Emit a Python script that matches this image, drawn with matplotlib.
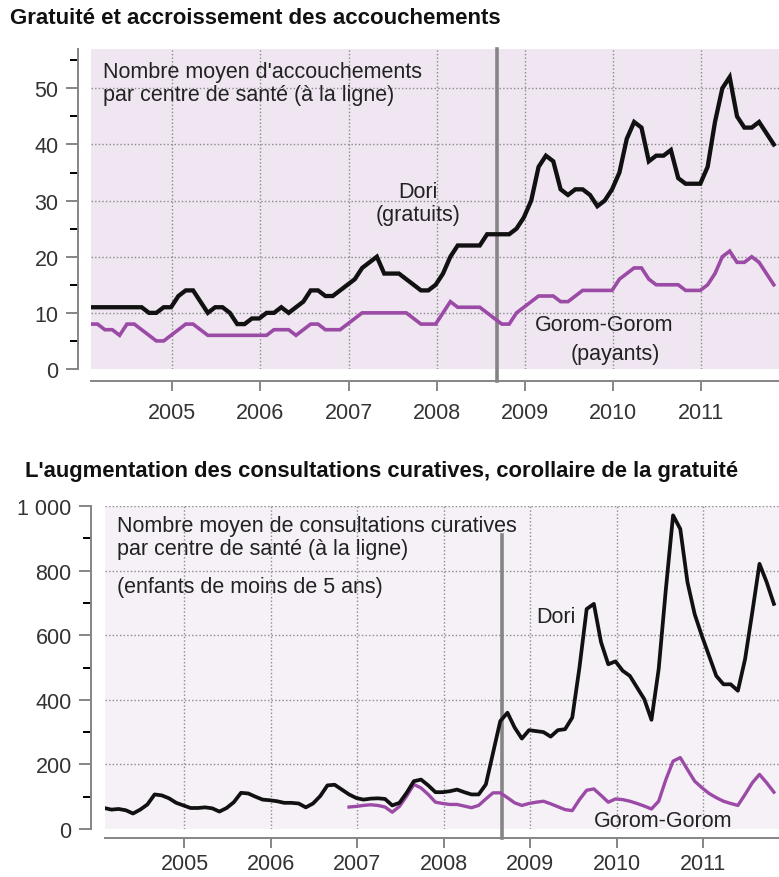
import matplotlib
matplotlib.use('Agg')
import matplotlib.pyplot as plt
import numpy as np

plt.rcParams['font.family'] = ['Liberation Sans', 'DejaVu Sans']

# monthly series, Jan 2004 -> Oct 2011 (94 months)
months = 2004 + (np.arange(94) + 0.85) / 12
reform = 2008.68  # date of the fee exemption in Dori

# Nombre moyen d'accouchements par centre de santé
dori_acc = [11, 11, 11, 11, 11, 11, 11, 11, 10, 10, 11, 11, 13, 14, 14, 12,
            10, 11, 11, 10, 8, 8, 9, 9, 10, 10, 11, 10, 11, 12, 14, 14,
            13, 13, 14, 15, 16, 18, 19, 20, 17, 17, 17, 16, 15, 14, 14, 15,
            17, 20, 22, 22, 22, 22, 24, 24, 24, 24, 25, 27, 30, 36, 38, 37,
            32, 31, 32, 32, 31, 29, 30, 32, 35, 41, 44, 43, 37, 38, 38, 39,
            34, 33, 33, 33, 36, 44, 50, 52, 45, 43, 43, 44, 42, 40]
gorom_acc = [8, 8, 7, 7, 6, 8, 8, 7, 6, 5, 5, 6, 7, 8, 8, 7,
             6, 6, 6, 6, 6, 6, 6, 6, 6, 7, 7, 7, 6, 7, 8, 8,
             7, 7, 7, 8, 9, 10, 10, 10, 10, 10, 10, 10, 9, 8, 8, 8,
             10, 12, 11, 11, 11, 11, 10, 9, 8, 8, 10, 11, 12, 13, 13, 13,
             12, 12, 13, 14, 14, 14, 14, 14, 16, 17, 18, 18, 16, 15, 15, 15,
             15, 14, 14, 14, 15, 17, 20, 21, 19, 19, 20, 19, 17, 15]

# Nombre moyen de consultations curatives (enfants de moins de 5 ans)
dori_cons = [65, 60, 62, 58, 48, 60, 76, 107, 104, 95, 81, 73, 65, 65, 67, 64,
             54, 65, 83, 112, 110, 100, 91, 89, 86, 81, 81, 79, 67, 79, 102, 135,
             137, 122, 107, 96, 91, 94, 95, 93, 73, 81, 112, 148, 153, 135, 114, 114,
             117, 122, 114, 107, 107, 138, 236, 334, 360, 314, 280, 306, 303, 300,
             286, 306, 309, 345, 500, 681, 697, 578, 510, 519, 490, 474, 438, 402,
             338, 495, 743, 971, 929, 764, 665, 598, 536, 474, 448, 448, 428, 526,
             671, 821, 764, 697]
gorom_cons_start = 34  # Gorom-Gorom series starts in Nov 2006
gorom_cons = [68, 70, 73, 75, 73, 68, 52, 70, 102, 138, 127, 107, 83,
              79, 76, 76, 71, 66, 73, 93, 112, 112, 97, 81, 73, 79, 83, 86,
              78, 69, 60, 57, 91, 120, 124, 104, 83, 93, 91, 86, 79, 71, 62,
              86, 153, 210, 221, 184, 148, 128, 110, 97, 86, 79, 73, 107, 143,
              169, 143, 114]

years = [2005, 2006, 2007, 2008, 2009, 2010, 2011]

BLACK = '#111111'
PURPLE = '#9b4aa6'
GREY = '#858585'
TXT = '#222222'
FS = 15.5

W, H = 779, 878
fig = plt.figure(figsize=(W / 100, H / 100), dpi=100)


def box(x0, y0, x1, y1):
    return [x0 / W, 1 - y1 / H, (x1 - x0) / W, (y1 - y0) / H]


def style(ax, bg, ymax, major, minor, labels, left_off, bottom_off, h_px,
          xpad, line_top):
    ax.set_facecolor(bg)
    ax.set_xlim(2004.08, 2011.88)
    ax.set_ylim(0, ymax)
    for s in ['top', 'right']:
        ax.spines[s].set_visible(False)
    ax.spines['left'].set_position(('outward', left_off))
    ax.spines['bottom'].set_position(('outward', bottom_off))
    for s in ['left', 'bottom']:
        ax.spines[s].set_color(GREY)
        ax.spines[s].set_linewidth(1.4)
    ax.set_xticks(years)
    ax.set_xticklabels([str(y) for y in years])
    ax.set_yticks(major)
    ax.set_yticklabels(labels)
    ax.set_yticks(minor, minor=True)
    ax.tick_params(colors=GREY, labelcolor='#333333', labelsize=FS, width=1.4)
    ax.tick_params(axis='y', which='major', length=9, pad=5)
    ax.tick_params(axis='y', which='minor', length=6, width=1.4)
    ax.tick_params(axis='x', length=7, pad=xpad)
    ax.grid(True, linestyle=(0, (1, 1.6)), color='#8a8a8a', linewidth=1.0)
    ax.get_ygridlines()[0].set_visible(False)
    ax.set_axisbelow(True)
    ax.axvline(reform, ymin=-(bottom_off / 0.72) / h_px, ymax=line_top,
               color=GREY, lw=2.6, clip_on=False, zorder=1.5)


# ---- top chart: accouchements ----
ax1 = fig.add_axes(box(91, 50, 779, 370))
style(ax1, '#efe6f1', 57, [0, 10, 20, 30, 40, 50], [5, 15, 25, 35, 45, 55],
      ['0', '10', '20', '30', '40', '50'], 9.4, 8.6, 320, 8, 1)
ax1.plot(months, gorom_acc, color=PURPLE, lw=2.6, zorder=3,
         solid_joinstyle='miter')
ax1.plot(months, dori_acc, color=BLACK, lw=3.1, zorder=4,
         solid_joinstyle='miter')

fig.text(10 / W, 1 - 18 / H, 'Gratuité et accroissement des accouchements',
         fontsize=16, fontweight='bold', color='#111111', va='center')
fig.text(103 / W, 1 - 84 / H,
         "Nombre moyen d'accouchements\npar centre de santé (à la ligne)",
         fontsize=FS, color=TXT, va='center', linespacing=1.1)
fig.text(418 / W, 1 - 204 / H, 'Dori\n(gratuits)', fontsize=FS, color=TXT,
         ha='center', va='center', linespacing=1.15)
fig.text(604 / W, 1 - 326 / H, 'Gorom-Gorom', fontsize=FS, color=TXT,
         ha='center', va='center')
fig.text(615 / W, 1 - 355 / H, '(payants)', fontsize=FS, color=TXT,
         ha='center', va='center')

# ---- bottom chart: consultations curatives ----
ax2 = fig.add_axes(box(105, 507, 779, 830))
style(ax2, '#f5f1f7', 1000, [0, 200, 400, 600, 800, 1000],
      [100, 300, 500, 700, 900],
      ['0', '200', '400', '600', '800', '1 000'], 10, 6.5, 323, 3.5, 0.91)
ax2.plot(months[gorom_cons_start:], gorom_cons, color=PURPLE, lw=2.4, zorder=3)
ax2.plot(months, dori_cons, color=BLACK, lw=2.7, zorder=4)

fig.text(25 / W, 1 - 472 / H,
         "L'augmentation des consultations curatives, corollaire de la gratuité",
         fontsize=15.8, fontweight='bold', color='#111111', va='center')
fig.text(117 / W, 1 - 538 / H,
         'Nombre moyen de consultations curatives\npar centre de santé (à la ligne)',
         fontsize=FS, color=TXT, va='center', linespacing=1.1)
fig.text(117 / W, 1 - 588 / H, '(enfants de moins de 5 ans)',
         fontsize=FS, color=TXT, va='center')
fig.text(556 / W, 1 - 618 / H, 'Dori', fontsize=FS, color=TXT,
         ha='center', va='center')
fig.text(663 / W, 1 - 822 / H, 'Gorom-Gorom', fontsize=FS, color=TXT,
         ha='center', va='center')

fig.savefig('out.png', dpi=100, facecolor='white')
